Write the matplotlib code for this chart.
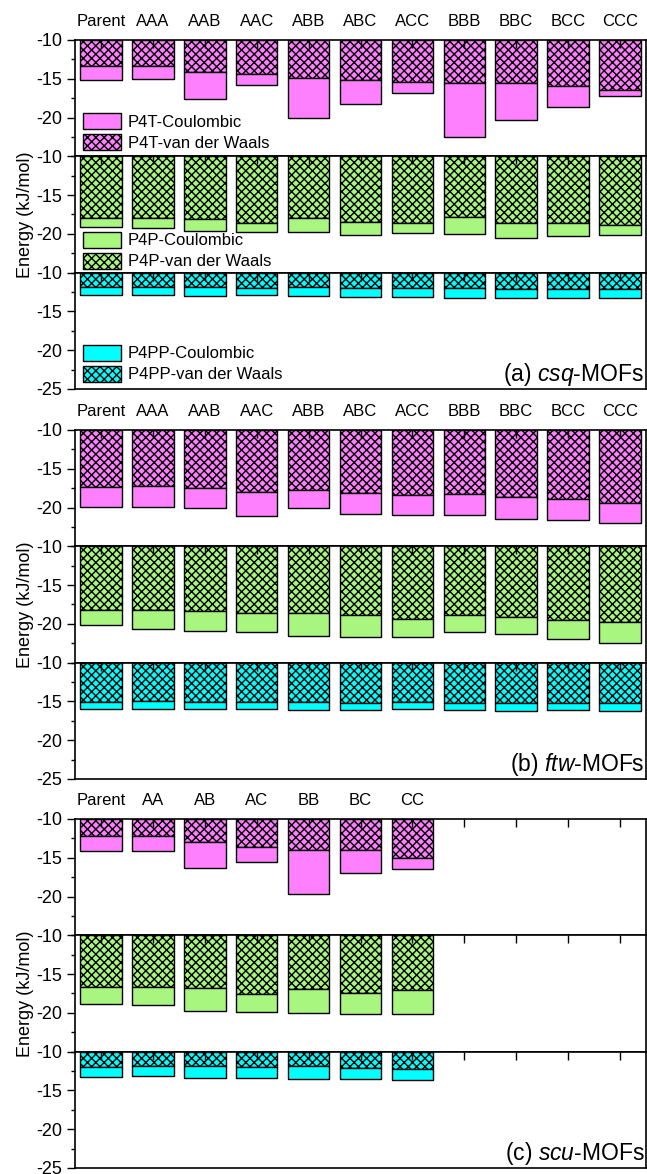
import numpy as np
import matplotlib.pyplot as plt
from matplotlib.ticker import MultipleLocator

plt.rcParams['font.family'] = ['Liberation Sans', 'DejaVu Sans']
plt.rcParams['mathtext.fontset'] = 'custom'
plt.rcParams['mathtext.rm'] = 'Liberation Sans'
plt.rcParams['mathtext.it'] = 'Liberation Sans:italic'
plt.rcParams['axes.unicode_minus'] = False
plt.rcParams['hatch.linewidth'] = 1.0

# ---- data (energies in kJ/mol, bars hang from -10) ----
tri_labels = ['Parent', 'AAA', 'AAB', 'AAC', 'ABB', 'ABC', 'ACC', 'BBB', 'BBC', 'BCC', 'CCC']
duo_labels = ['Parent', 'AA', 'AB', 'AC', 'BB', 'BC', 'CC']

# csq-MOFs
csq_p4t_vdw = [-13.3, -13.35, -14.12, -14.33, -14.9, -15.1, -15.45, -15.6, -15.6, -15.9, -16.5]
csq_p4t_tot = [-15.1, -14.98, -17.6, -15.8, -20.1, -18.2, -16.9, -22.5, -20.3, -18.6, -17.2]
csq_p4p_vdw = [-18.0, -17.95, -18.1, -18.55, -17.9, -18.5, -18.65, -17.8, -18.55, -18.65, -18.9]
csq_p4p_tot = [-19.06, -19.2, -19.65, -19.8, -19.8, -20.1, -19.9, -20.05, -20.5, -20.3, -20.2]
csq_p4pp_vdw = [-11.85, -11.85, -11.9, -11.95, -11.9, -11.97, -12.05, -12.05, -12.1, -12.15, -12.15]
csq_p4pp_tot = [-12.9, -12.9, -13.0, -12.95, -13.0, -13.1, -13.2, -13.3, -13.3, -13.3, -13.3]

# ftw-MOFs
ftw_p4t_vdw = [-17.4, -17.26, -17.48, -18.04, -17.74, -18.17, -18.4, -18.3, -18.65, -18.9, -19.43]
ftw_p4t_tot = [-19.87, -19.87, -20.1, -21.13, -20.1, -20.83, -21.0, -20.96, -21.43, -21.65, -21.96]
ftw_p4p_vdw = [-18.28, -18.23, -18.4, -18.62, -18.66, -18.88, -19.35, -18.8, -19.14, -19.48, -19.78]
ftw_p4p_tot = [-20.09, -20.65, -20.9, -21.03, -21.6, -21.68, -21.68, -21.0, -21.25, -22.0, -22.41]
ftw_p4pp_vdw = [-15.09, -14.96, -15.04, -15.04, -15.09, -15.17, -15.13, -15.17, -15.22, -15.22, -15.22]
ftw_p4pp_tot = [-15.95, -15.95, -16.03, -16.03, -16.08, -16.12, -16.03, -16.12, -16.2, -16.12, -16.2]

# scu-MOFs
scu_p4t_vdw = [-12.23, -12.15, -12.92, -13.6, -14.0, -14.03, -15.06]
scu_p4t_tot = [-14.12, -14.12, -16.27, -15.54, -19.66, -16.99, -16.44]
scu_p4p_vdw = [-16.7, -16.65, -16.78, -17.51, -16.95, -17.38, -17.0]
scu_p4p_tot = [-18.84, -18.97, -19.74, -19.91, -20.08, -20.17, -20.17]
scu_p4pp_vdw = [-11.93, -11.89, -11.89, -12.02, -11.89, -12.06, -12.23]
scu_p4pp_tot = [-13.22, -13.13, -13.39, -13.39, -13.56, -13.52, -13.6]

guests = ['P4T', 'P4P', 'P4PP']
colors = ['#FF80FF', '#A8F580', '#00FFFF']

panels = [
    (tri_labels, [(csq_p4t_vdw, csq_p4t_tot), (csq_p4p_vdw, csq_p4p_tot), (csq_p4pp_vdw, csq_p4pp_tot)], '(a) $csq$-MOFs'),
    (tri_labels, [(ftw_p4t_vdw, ftw_p4t_tot), (ftw_p4p_vdw, ftw_p4p_tot), (ftw_p4pp_vdw, ftw_p4pp_tot)], '(b) $ftw$-MOFs'),
    (duo_labels, [(scu_p4t_vdw, scu_p4t_tot), (scu_p4p_vdw, scu_p4p_tot), (scu_p4pp_vdw, scu_p4pp_tot)], '(c) $scu$-MOFs'),
]

W, H = 647, 1174
fig = plt.figure(figsize=(W / 100, H / 100), dpi=100)

panel_tops = [40, 430, 819]
sub_h = 116.3
left_px, right_px = 75, 646
legend_y = [0.207, 0.19, 0.218]
n_slots = 11

for p, (labels, series, title) in enumerate(panels):
    for g in range(3):
        top = panel_tops[p] + g * sub_h
        ax = fig.add_axes([left_px / W, 1 - (top + sub_h) / H,
                           (right_px - left_px) / W, sub_h / H])
        vdw, tot = series[g]
        x = np.arange(len(labels))
        vdw = np.array(vdw)
        tot = np.array(tot)
        # van der Waals part hangs from -10, Coulombic part continues below it
        b1 = ax.bar(x, vdw + 10, bottom=-10, width=0.8, color=colors[g],
                    edgecolor='black', linewidth=1.0, hatch='xxxx')
        b2 = ax.bar(x, tot - vdw, bottom=vdw, width=0.8, color=colors[g],
                    edgecolor='black', linewidth=1.0)

        ax.set_xlim(-0.5, n_slots - 0.5)
        ax.set_ylim(-25, -10)
        if g == 2:
            ax.set_yticks([-25, -20, -15, -10])
        else:
            ax.set_yticks([-20, -15, -10])
        ax.yaxis.set_minor_locator(MultipleLocator(2.5))
        ax.tick_params(axis='y', which='major', direction='out', length=6,
                       width=1, labelsize=13, pad=3)
        ax.tick_params(axis='y', which='minor', direction='out', length=3, width=1)

        tick_labels = labels + [''] * (n_slots - len(labels))
        ax.set_xticks(np.arange(n_slots))
        ax.set_xticklabels(tick_labels)
        ax.tick_params(axis='x', which='both', top=True, bottom=False,
                       labeltop=(g == 0), labelbottom=False, direction='in',
                       length=6, width=1, labelsize=12, pad=8)
        for s in ax.spines.values():
            s.set_linewidth(1.2)

        if g == 1:
            ax.set_ylabel('Energy (kJ/mol)', fontsize=13, labelpad=2)
        if g == 2:
            ax.text(0.997, 0.005, title, transform=ax.transAxes, ha='right',
                    va='bottom', fontsize=16.5)
        if p == 0:
            ax.legend([b2, b1], [guests[g] + '-Coulombic', guests[g] + '-van der Waals'],
                      loc='center left', bbox_to_anchor=(0.014, legend_y[g]),
                      frameon=False, fontsize=12, handlelength=2.3,
                      handleheight=1.1, handletextpad=0.4, labelspacing=0.25,
                      borderpad=0, borderaxespad=0)

fig.savefig('out.png', dpi=100)
